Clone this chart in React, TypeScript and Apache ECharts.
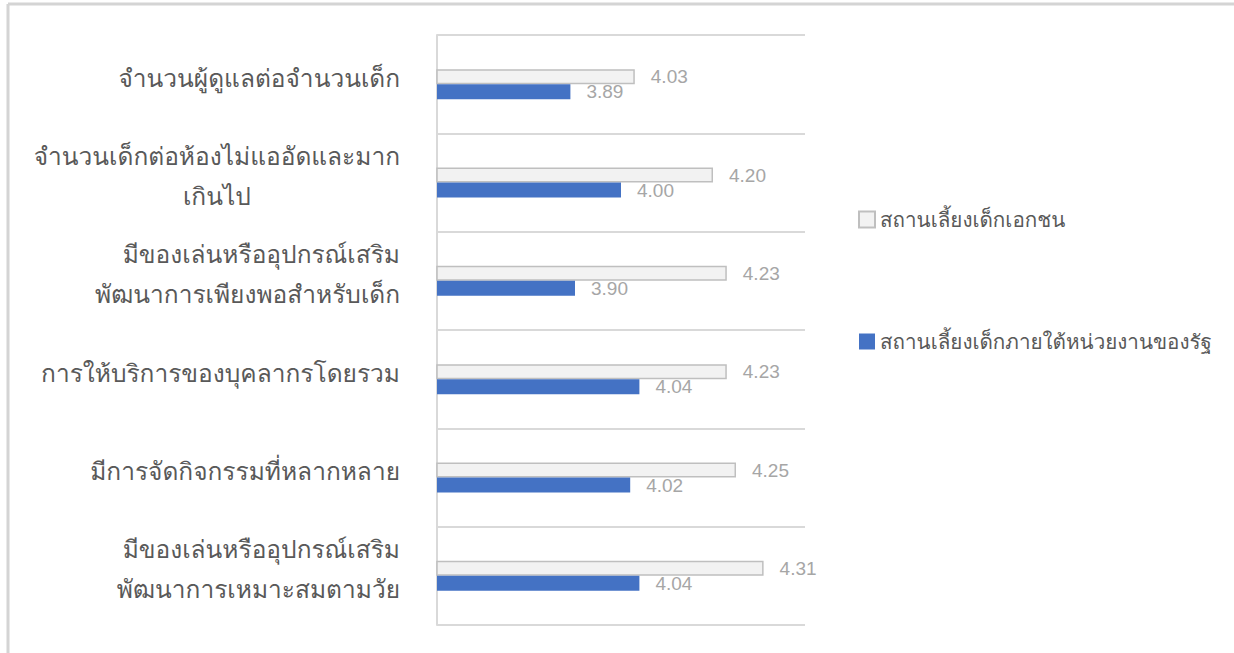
import React, { useEffect, useRef } from "react";
import * as echarts from "echarts";

const categories = [
  "จำนวนผู้ดูแลต่อจำนวนเด็ก",
  "จำนวนเด็กต่อห้องไม่แออัดและมาก\n{c|เกินไป}",
  "มีของเล่นหรืออุปกรณ์เสริม\nพัฒนาการเพียงพอสำหรับเด็ก",
  "การให้บริการของบุคลากรโดยรวม",
  "มีการจัดกิจกรรมที่หลากหลาย",
  "มีของเล่นหรืออุปกรณ์เสริม\nพัฒนาการเหมาะสมตามวัย",
];
const privateName = "สถานเลี้ยงเด็กเอกชน";
const publicName = "สถานเลี้ยงเด็กภายใต้หน่วยงานของรัฐ";
const privateValues = [4.03, 4.2, 4.23, 4.23, 4.25, 4.31];
const publicValues = [3.89, 4.0, 3.9, 4.04, 4.02, 4.04];

const THAI_FONT = "Tahoma, Loma, 'Noto Sans Thai', 'Noto Sans', sans-serif";
const NUM_FONT = "'Liberation Sans', Arial, sans-serif";

export default function App() {
  const ref = useRef<HTMLDivElement>(null);
  useEffect(() => {
    if (!ref.current) return;
    const chart = echarts.init(ref.current, undefined, { renderer: "svg" });
    const fmt = (p: any) => Number(p.value).toFixed(2);
    chart.setOption({
      animation: false,
      backgroundColor: "#ffffff",
      grid: { left: 437, right: 429, top: 35, bottom: 28, containLabel: false },
      legend: {
        orient: "vertical",
        left: 853,
        top: 204,
        itemWidth: 16,
        itemHeight: 16,
        itemGap: 101,
        icon: "rect",
        textStyle: { color: "#595959", fontSize: 20.6, fontFamily: THAI_FONT },
        data: [privateName, publicName],
      },
      xAxis: {
        type: "value",
        min: 3.6,
        max: 4.4,
        axisLabel: { show: false },
        axisLine: { show: false },
        axisTick: { show: false },
        splitLine: { show: false },
      },
      yAxis: {
        type: "category",
        inverse: true,
        data: categories,
        axisLine: { show: true, lineStyle: { color: "#d9d9d9", width: 2 } },
        axisTick: { show: false },
        splitLine: { show: true, lineStyle: { color: "#d9d9d9", width: 2 } },
        axisLabel: {
          color: "#595959",
          fontSize: 24.5,
          fontFamily: THAI_FONT,
          margin: 37,
          lineHeight: 40,
          align: "right",
          padding: [0, 0, 12, 0],
          rich: {
            c: { align: "center", color: "#595959", fontSize: 24.5, fontFamily: THAI_FONT, lineHeight: 40 },
          },
        },
      },
      graphic: [
        { type: "line", shape: { x1: 8, y1: 4, x2: 1234, y2: 4 }, style: { stroke: "#d4d4d4", lineWidth: 3 } },
        { type: "line", shape: { x1: 8, y1: 4, x2: 8, y2: 653 }, style: { stroke: "#d4d4d4", lineWidth: 3 } },
      ],
      series: [
        {
          name: privateName,
          type: "bar",
          data: privateValues,
          barWidth: 15,
          barGap: "0%",
          itemStyle: { color: "#f2f2f2", borderColor: "#bfbfbf", borderWidth: 1.5 },
          label: {
            show: true,
            position: "right",
            distance: 16,
            color: "#a6a6a6",
            fontSize: 19,
            fontFamily: NUM_FONT,
            formatter: fmt,
          },
        },
        {
          name: publicName,
          type: "bar",
          data: publicValues,
          barWidth: 15,
          barGap: "0%",
          itemStyle: { color: "#4472c4" },
          label: {
            show: true,
            position: "right",
            distance: 16,
            color: "#a6a6a6",
            fontSize: 19,
            fontFamily: NUM_FONT,
            formatter: fmt,
          },
        },
      ],
    });
    return () => chart.dispose();
  }, []);
  return (
    <div
      ref={ref}
      style={{ position: "fixed", left: 0, top: 0, width: 1234, height: 653, background: "#fff" }}
    />
  );
}
